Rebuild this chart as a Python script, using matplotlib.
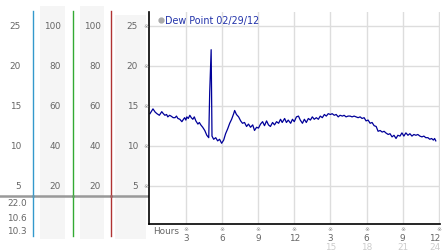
import matplotlib.pyplot as plt
from matplotlib.transforms import blended_transform_factory as blend

# dew point 02/29/12, hour of day -> degrees
hours = [0.02, 0.27, 0.45, 0.6, 0.8, 1.0, 1.13, 1.26, 1.4, 1.5, 1.65, 1.77, 1.95, 2.1, 2.22,
         2.34, 2.5, 2.67, 2.8, 2.9, 3.0, 3.08, 3.2, 3.33, 3.45, 3.58, 3.7, 3.83, 4.0, 4.12,
         4.24, 4.4, 4.57, 4.74, 4.9, 4.98, 5.1, 5.17, 5.31, 5.48, 5.64, 5.8, 5.97, 6.14, 6.3,
         6.47, 6.64, 6.8, 6.97, 7.05, 7.2, 7.38, 7.55, 7.7, 7.87, 8.04, 8.2, 8.37, 8.55, 8.7,
         8.87, 9.03, 9.2, 9.37, 9.53, 9.7, 9.86, 10.02, 10.2, 10.36, 10.53, 10.7, 10.86, 11.0,
         11.2, 11.35, 11.5, 11.7, 11.85, 12.0, 12.18, 12.35, 12.5, 12.68, 12.84, 13.0, 13.17,
         13.34, 13.5, 13.66, 13.83, 14.0, 14.16, 14.33, 14.5, 14.66, 14.82, 15.0, 15.15, 15.32,
         15.48, 15.65, 15.8, 16.0, 16.14, 16.3, 16.47, 16.64, 16.8, 16.97, 17.13, 17.3, 17.47,
         17.63, 17.8, 17.96, 18.13, 18.3, 18.46, 18.63, 18.8, 18.96, 19.13, 19.3, 19.46, 19.6,
         19.8, 19.95, 20.12, 20.28, 20.45, 20.6, 20.78, 20.94, 21.1, 21.27, 21.44, 21.6, 21.77,
         21.93, 22.1, 22.26, 22.43, 22.6, 22.76, 22.92, 23.1, 23.25, 23.4, 23.55, 23.65, 23.75]
dew = [14.0, 14.6, 14.2, 14.0, 13.8, 14.25, 14.0, 13.8, 13.9, 13.6, 13.8, 13.7, 13.5, 13.5, 13.7,
       13.4, 13.3, 13.0, 13.3, 13.5, 13.2, 13.6, 13.4, 13.8, 13.5, 13.3, 13.6, 13.1, 12.7, 12.9,
       12.6, 12.3, 11.9, 11.3, 11.0, 16.7, 22.0, 11.2, 10.8, 11.0, 10.6, 10.8, 10.3, 10.7, 11.5,
       12.1, 12.8, 13.3, 14.0, 14.4, 13.9, 13.6, 13.1, 12.8, 12.9, 12.4, 12.7, 12.3, 12.6, 11.9,
       12.3, 12.2, 12.7, 13.0, 12.5, 13.1, 12.6, 12.4, 12.9, 12.6, 13.0, 12.8, 13.3, 12.9,
       13.4, 12.9, 13.2, 12.8, 13.3, 13.0, 13.6, 13.7, 13.2, 12.8, 13.3, 12.9, 13.4,
       13.2, 13.6, 13.3, 13.5, 13.3, 13.7, 13.5, 13.9, 13.7, 14.0, 13.9, 14.0, 13.8,
       13.9, 13.6, 13.8, 13.7, 13.8, 13.6, 13.7, 13.7, 13.6, 13.7, 13.6, 13.5, 13.6,
       13.4, 13.5, 13.1, 13.2, 12.8, 12.9, 12.5, 12.4, 11.8, 11.9, 11.7, 11.8, 11.6,
       11.4, 11.5, 11.1, 11.3, 10.9, 11.3, 11.2, 11.6, 11.2, 11.6, 11.3, 11.5, 11.2,
       11.4, 11.3, 11.4, 11.2, 11.1, 11.2, 11.0, 11.0, 10.8, 10.9, 10.7, 10.9, 10.6]

temp_ticks = [5, 10, 15, 20, 25]
hum_ticks = [20, 40, 60, 80, 100]
hour_ticks = [3, 6, 9, 12, 15, 18, 21, 24]
hour_labels = ["3", "6", "9", "12", "3", "6", "9", "12"]
pm_hours = [15, 18, 21, 24]
title = "Dew Point 02/29/12"

W, H = 442, 253
fig = plt.figure(figsize=(W / 100, H / 100), dpi=100)
fs = 6.4
grey = "#666666"

# main chart
left, right, top, bot = 149, 440, 13, 225
ax = fig.add_axes([left / W, 1 - bot / H, (right - left) / W, (bot - top) / H])
ylo, yhi = 0.21, 26.71
ax.set_ylim(ylo, yhi)
ax.set_xlim(-0.06, 24.1)
ax.plot(hours, dew, color="#000099", lw=0.9)
ax.set_xticks(hour_ticks)
ax.set_xticklabels([])
ax.set_yticks(temp_ticks)
ax.set_yticklabels([])
ax.grid(True, color="#dddddd", lw=1)
ax.set_axisbelow(True)
ax.tick_params(length=0)
for s in ["top", "right"]:
    ax.spines[s].set_visible(False)
for s in ["left", "bottom"]:
    ax.spines[s].set_color("black")
    ax.spines[s].set_linewidth(1.2)

xb = blend(ax.transData, ax.transAxes)
yb = blend(ax.transAxes, ax.transData)
edge = 1 - 1.5 / (right - left) + (W - right) / (right - left)  # right edge of figure, axes units
for h, lab in zip(hour_ticks, hour_labels):
    ax.text(h, -0.022, "※", transform=xb, ha="center", va="center", fontsize=4.3, color="#8c8c8c")
    if h == hour_ticks[-1]:
        ax.text(edge, -0.065, lab, transform=ax.transAxes, ha="right", va="center",
                fontsize=fs, color=grey)
    else:
        ax.text(h, -0.065, lab, transform=xb, ha="center", va="center", fontsize=fs, color=grey)
for h in pm_hours:
    if h == pm_hours[-1]:
        ax.text(edge, -0.105, str(h), transform=ax.transAxes, ha="right", va="center",
                fontsize=fs, color="#cccccc")
    else:
        ax.text(h, -0.105, str(h), transform=xb, ha="center", va="center", fontsize=fs,
                color="#cccccc")
for t in temp_ticks:
    ax.text(-0.012, t, "※", transform=yb, ha="center", va="center", fontsize=4.3,
            color="#8c8c8c", clip_on=False)
ax.text(0.014, -0.033, "Hours", transform=ax.transAxes, ha="left", va="center",
        fontsize=fs, color=grey)
ax.plot([0.04], [25.75], transform=yb, marker="o", ms=3.5, color="#aaaaaa", clip_on=False)
ax.text(0.055, 25.75, title, transform=yb, ha="left", va="center", fontsize=6.9,
        color="#2233aa")

# side panel with the same vertical scale as the chart
scale = (yhi - ylo) / ((bot - top) / H)
lax = fig.add_axes([0, 0, left / W, 1])
lax.set_xlim(0, left)
lax.set_ylim(ylo - (1 - bot / H) * scale, yhi + (top / H) * scale)
lax.axis("off")
lax.set_zorder(-1)

for x0, x1, y0 in [(40, 65, 7), (80, 104, 7), (115, 146, 16)]:
    lax.axvspan(x0, x1, ymin=1 - 240 / H, ymax=1 - y0 / H, color="#f5f5f5", lw=0)

line_cols = [(33.3, "#3399cc"), (72.7, "#33aa33"), (111.3, "#b03333")]
for x, c in line_cols:
    lax.axvline(x, ymin=1 - 237 / H, ymax=1 - 12 / H, color=c, lw=1)

hb = blend(lax.transData, lax.transAxes)
lax.plot([0, 149], [1 - 197.3 / H] * 2, transform=hb, color="#999999", lw=1.8)
for x, c in line_cols:
    lax.plot([x], [1 - 197.3 / H], transform=hb, marker="o", ms=2.2, color=c, alpha=0.5, mew=0)

for t in temp_ticks:
    lax.text(21, t, str(t), ha="right", va="center", fontsize=fs, color=grey)
    lax.text(138, t, str(t), ha="right", va="center", fontsize=fs, color=grey)
for t, hv in zip(temp_ticks, hum_ticks):
    lax.text(60.5, t, str(hv), ha="right", va="center", fontsize=fs, color=grey)
    lax.text(100.5, t, str(hv), ha="right", va="center", fontsize=fs, color=grey)

stats = [max(dew), dew[-1], min(dew)]
for v, yp in zip(stats, [204, 218.5, 231.5]):
    lax.text(27, 1 - yp / H, "%.1f" % v, transform=hb, ha="right", va="center",
             fontsize=fs, color=grey)

fig.savefig("out.png", dpi=100)
